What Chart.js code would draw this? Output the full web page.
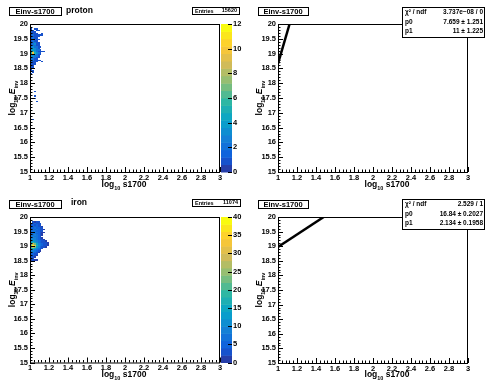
<!DOCTYPE html>
<html>
<head>
<meta charset="utf-8">
<script src="https://cdn.jsdelivr.net/npm/chart.js@4.4.0/dist/chart.umd.min.js"></script>
<style>
  body { margin: 0; background: #fff; }
  #wrap { position: relative; width: 485px; height: 380px; overflow: hidden; background: #fff; }
  canvas { position: absolute; }
</style>
</head>
<body>
<div id="wrap">
  <canvas id="c1" width="242" height="190" style="left:0px;top:0px"></canvas>
  <canvas id="c2" width="242" height="190" style="left:243px;top:0px"></canvas>
  <canvas id="c3" width="242" height="190" style="left:0px;top:190px"></canvas>
  <canvas id="c4" width="242" height="190" style="left:243px;top:190px"></canvas>
</div>
<script>
// ---- datos ----
const xTicks = [1, 1.2, 1.4, 1.6, 1.8, 2, 2.2, 2.4, 2.6, 2.8, 3];
const yTicks = [15, 15.5, 16, 16.5, 17, 17.5, 18, 18.5, 19, 19.5, 20];
const binX = 0.02;
const binY = 0.05;

// proton: bin lower edges and counts
const protonColsX = [1.0, 1.02, 1.04, 1.06, 1.08, 1.1, 1.12, 1.14];
const protonRowsY = [19.8, 19.75, 19.7, 19.65, 19.6, 19.55, 19.5, 19.45, 19.4, 19.35, 19.3, 19.25, 19.2, 19.15, 19.1, 19.05, 19.0, 18.95, 18.9, 18.85, 18.8, 18.75, 18.7, 18.65, 18.6, 18.55, 18.5, 18.45, 18.4, 18.35, 18.3];
const protonCounts = [
  [1, 0, 1, 1, 0, 0, 0, 0],
  [1, 1, 0, 1, 1, 0, 0, 0],
  [1, 1, 1, 0, 0, 0, 0, 0],
  [1, 1, 1, 1, 0, 0, 1, 0],
  [1, 2, 1, 1, 1, 1, 1, 0],
  [2, 1, 1, 1, 1, 0, 0, 0],
  [1, 2, 1, 1, 0, 0, 0, 0],
  [1, 1, 2, 1, 1, 0, 0, 0],
  [1, 2, 1, 1, 0, 0, 0, 0],
  [2, 2, 2, 1, 1, 0, 0, 0],
  [1, 2, 3, 1, 1, 0, 0, 0],
  [2, 2, 2, 1, 1, 0, 0, 0],
  [2, 3, 2, 2, 1, 1, 0, 0],
  [3, 4, 3, 2, 1, 0, 0, 0],
  [3, 4, 3, 2, 2, 1, 0, 0],
  [4, 6, 4, 2, 1, 1, 1, 1],
  [5, 10, 5, 3, 2, 1, 0, 0],
  [4, 5, 3, 2, 1, 1, 0, 0],
  [3, 3, 2, 2, 1, 0, 0, 0],
  [2, 2, 2, 1, 1, 0, 0, 0],
  [2, 2, 1, 1, 0, 0, 0, 0],
  [1, 2, 1, 1, 1, 1, 0, 0],
  [2, 1, 1, 1, 0, 0, 1, 0],
  [1, 1, 1, 0, 0, 0, 0, 0],
  [1, 1, 1, 0, 0, 0, 0, 0],
  [1, 1, 0, 0, 0, 0, 0, 0],
  [1, 1, 0, 0, 0, 0, 0, 0],
  [1, 0, 0, 0, 0, 0, 0, 0],
  [1, 1, 0, 0, 0, 0, 0, 0],
  [0, 1, 0, 0, 0, 0, 0, 0],
  [1, 0, 0, 0, 0, 0, 0, 0],
];
const protonExtraX = [1.04, 1.04, 1.04, 1.06, 1.02, 1.0];
const protonExtraY = [17.7, 17.55, 17.45, 17.35, 16.75, 16.75];
const protonExtraZ = [1, 1, 1, 1, 1, 1];
const protonZTicks = [0, 2, 4, 6, 8, 10, 12];

// iron
const ironColsX = [1.0, 1.02, 1.04, 1.06, 1.08, 1.1, 1.12, 1.14, 1.16, 1.18];
const ironRowsY = [19.8, 19.75, 19.7, 19.65, 19.6, 19.55, 19.5, 19.45, 19.4, 19.35, 19.3, 19.25, 19.2, 19.15, 19.1, 19.05, 19.0, 18.95, 18.9, 18.85, 18.8, 18.75, 18.7, 18.65, 18.6, 18.55, 18.5, 18.45];
const ironCounts = [
  [0, 2, 1, 2, 3, 0, 0, 0, 0, 0],
  [2, 3, 4, 2, 3, 2, 0, 0, 0, 0],
  [3, 4, 3, 5, 2, 3, 0, 0, 0, 0],
  [3, 5, 4, 4, 3, 2, 1, 0, 0, 0],
  [4, 5, 6, 5, 4, 3, 2, 0, 0, 0],
  [5, 6, 5, 6, 4, 3, 2, 1, 0, 0],
  [5, 7, 6, 5, 5, 3, 2, 0, 0, 0],
  [6, 6, 7, 6, 4, 3, 1, 1, 0, 0],
  [5, 7, 6, 5, 4, 2, 1, 0, 0, 0],
  [6, 7, 8, 6, 4, 2, 1, 0, 0, 0],
  [7, 8, 7, 6, 4, 3, 0, 0, 0, 0],
  [8, 9, 8, 7, 5, 2, 1, 0, 0, 0],
  [9, 10, 9, 7, 5, 3, 2, 1, 0, 0],
  [11, 13, 11, 9, 6, 4, 2, 2, 1, 0],
  [14, 18, 15, 11, 7, 5, 3, 2, 2, 1],
  [20, 28, 22, 14, 9, 6, 4, 3, 2, 1],
  [25, 39, 31, 17, 10, 7, 5, 3, 2, 1],
  [21, 29, 22, 13, 8, 5, 3, 2, 1, 0],
  [15, 18, 14, 9, 6, 3, 2, 0, 0, 0],
  [11, 12, 9, 6, 4, 2, 0, 0, 0, 0],
  [8, 9, 6, 4, 2, 1, 0, 0, 0, 0],
  [6, 7, 4, 3, 1, 0, 0, 0, 0, 0],
  [5, 5, 3, 2, 0, 0, 0, 0, 0, 0],
  [3, 4, 2, 1, 0, 0, 0, 0, 0, 0],
  [2, 3, 1, 0, 0, 0, 0, 0, 0, 0],
  [2, 2, 0, 0, 0, 0, 0, 0, 0, 0],
  [1, 2, 1, 1, 0, 0, 0, 0, 0, 0],
  [1, 1, 0, 0, 0, 0, 0, 0, 0, 0],
];
const ironZTicks = [0, 5, 10, 15, 20, 25, 30, 35, 40];

// fit lines (end points)
const protonFitX = [1, 1.122];
const protonFitY = [18.66, 20];
const ironFitX = [1, 1.481];
const ironFitY = [18.97, 20];

const protonStats = [["\u03c7\u00b2 / ndf", "3.737e\u221208 / 0"], ["p0", "7.659 \u00b1 1.251"], ["p1", "11 \u00b1 1.225"]];
const ironStats = [["\u03c7\u00b2 / ndf", "2.529 / 1"], ["p0", "16.84 \u00b1 0.2027"], ["p1", "2.134 \u00b1 0.1958"]];

// ---- estilo ----
const fam = "'Liberation Sans', Arial, Helvetica, sans-serif";
const birdStops = [0, 0.125, 0.25, 0.375, 0.5, 0.625, 0.75, 0.875, 1];
const birdRed = [0.2082, 0.0592, 0.078, 0.0232, 0.1802, 0.5301, 0.8186, 0.9956, 0.9764];
const birdGreen = [0.1664, 0.3599, 0.5041, 0.6419, 0.7178, 0.7492, 0.7328, 0.7862, 0.9832];
const birdBlue = [0.5293, 0.8684, 0.8385, 0.7914, 0.6425, 0.4662, 0.3499, 0.1968, 0.0539];
const nContours = 20;

function birdColor(f) {
  f = Math.min(1, Math.max(0, f));
  let i = 0;
  while (i < birdStops.length - 2 && f > birdStops[i + 1]) i++;
  let t = (f - birdStops[i]) / (birdStops[i + 1] - birdStops[i]);
  let r = birdRed[i] + t * (birdRed[i + 1] - birdRed[i]);
  let g = birdGreen[i] + t * (birdGreen[i + 1] - birdGreen[i]);
  let b = birdBlue[i] + t * (birdBlue[i + 1] - birdBlue[i]);
  return `rgb(${Math.round(r * 255)},${Math.round(g * 255)},${Math.round(b * 255)})`;
}
function bandColor(band) {
  // como ROOT: color del contorno k = (k + 0.99) / ncontornos
  return birdColor((band + 0.99) / nContours);
}
function cellColor(z, zMax) {
  return bandColor(Math.min(nContours - 1, Math.floor((z / zMax) * nContours + 0.01)));
}

function buildCells(colsX, rowsY, counts, exX, exY, exZ) {
  let cells = [];
  rowsY.forEach(function (y, r) {
    colsX.forEach(function (x, c) {
      if (counts[r][c] > 0) cells.push({ x: x, y: y, z: counts[r][c] });
    });
  });
  (exX || []).forEach(function (x, i) {
    cells.push({ x: x, y: exY[i], z: exZ[i] });
  });
  return cells;
}

function drawParts(ctx, parts, cx, baseline) {
  let total = 0;
  parts.forEach(function (p) {
    ctx.font = p[1];
    total += ctx.measureText(p[0]).width;
  });
  let x = cx - total / 2;
  ctx.textAlign = "left";
  ctx.textBaseline = "alphabetic";
  parts.forEach(function (p) {
    ctx.font = p[1];
    ctx.fillText(p[0], x, baseline + p[2]);
    x += ctx.measureText(p[0]).width;
  });
}

// ---- plugin ROOT ----
const rootPlugin = {
  id: "rootPad",
  beforeDatasetsDraw(chart) {
    let cfg = chart.options.plugins.rootPad;
    let ctx = chart.ctx;
    let xs = chart.scales.x;
    let ys = chart.scales.y;
    if (cfg.heat) {
      ctx.save();
      chart.data.datasets[0].data.forEach(function (c) {
        let x0 = Math.round(xs.getPixelForValue(c.x));
        let x1 = Math.round(xs.getPixelForValue(c.x + binX));
        let y0 = Math.round(ys.getPixelForValue(c.y));
        let y1 = Math.round(ys.getPixelForValue(c.y + binY));
        ctx.fillStyle = cellColor(c.z, cfg.zMax);
        ctx.fillRect(x0, y1, Math.max(1, x1 - x0), Math.max(1, y0 - y1));
      });
      ctx.restore();
    }
  },
  afterDraw(chart) {
    let cfg = chart.options.plugins.rootPad;
    let ctx = chart.ctx;
    let a = chart.chartArea;
    let xs = chart.scales.x;
    let ys = chart.scales.y;
    ctx.save();
    ctx.strokeStyle = "#000";
    ctx.fillStyle = "#000";
    ctx.lineWidth = 1;

    // palette
    if (cfg.heat) {
      let zs = chart.scales.z;
      let px0 = a.right + 1;
      let pw = 11;
      for (let i = 0; i < nContours; i++) {
        let yb = zs.getPixelForValue((i * cfg.zMax) / nContours);
        let yt = zs.getPixelForValue(((i + 1) * cfg.zMax) / nContours);
        ctx.fillStyle = bandColor(i);
        ctx.fillRect(px0, yt, pw, yb - yt + 0.5);
      }
      ctx.fillStyle = "#000";
      ctx.beginPath();
      cfg.zTicks.forEach(function (v) {
        let y = Math.round(zs.getPixelForValue(v)) + 0.5;
        ctx.moveTo(px0 + pw, y);
        ctx.lineTo(px0 + pw - 4, y);
      });
      ctx.stroke();
    }

    // frame
    ctx.strokeRect(a.left + 0.5, a.top + 0.5, a.right - a.left - 1, a.bottom - a.top);

    // inward ticks
    ctx.beginPath();
    for (let i = 0; i <= 50; i++) {
      let x = Math.round(xs.getPixelForValue(1 + i * 0.04)) + 0.5;
      let len = i % 5 === 0 ? 5 : 2.5;
      ctx.moveTo(x, a.bottom);
      ctx.lineTo(x, a.bottom - len);
    }
    for (let i = 0; i <= 50; i++) {
      let y = Math.round(ys.getPixelForValue(15 + i * 0.1)) + 0.5;
      let len = i % 5 === 0 ? 5 : 2.5;
      ctx.moveTo(a.left, y);
      ctx.lineTo(a.left + len, y);
    }
    ctx.stroke();

    // axis titles
    ctx.fillStyle = "#000";
    drawParts(ctx, [
      ["log", "bold 8.5px " + fam, 0],
      ["10", "bold 5.5px " + fam, 2.5],
      [" s1700", "bold 8.5px " + fam, 0],
    ], cfg.xTitleX, cfg.xTitleY);
    ctx.save();
    ctx.translate(cfg.yTitleX, (a.top + a.bottom) / 2);
    ctx.rotate(-Math.PI / 2);
    drawParts(ctx, [
      ["log", "bold 8.5px " + fam, 0],
      ["10", "bold 5.5px " + fam, 2.5],
      [" ", "bold 8.5px " + fam, 0],
      ["E", "italic bold 8.5px " + fam, 0],
      ["inv", "bold 5.5px " + fam, 2.5],
    ], 0, 0);
    ctx.restore();

    // title box
    let tb = cfg.titleBox;
    ctx.fillStyle = "#fff";
    ctx.fillRect(tb[0], tb[1], tb[2], tb[3]);
    ctx.fillStyle = "#000";
    ctx.fillRect(tb[0] + 1, tb[1] + tb[3], tb[2], 1);
    ctx.fillRect(tb[0] + tb[2], tb[1] + 1, 1, tb[3]);
    ctx.strokeRect(tb[0] + 0.5, tb[1] + 0.5, tb[2], tb[3]);
    ctx.font = "bold 7.5px " + fam;
    ctx.textAlign = "center";
    ctx.textBaseline = "middle";
    ctx.fillText("Einv-s1700", tb[0] + tb[2] / 2, tb[1] + tb[3] / 2 + 1);

    if (cfg.label) {
      ctx.font = "bold 8.5px " + fam;
      ctx.textAlign = "left";
      ctx.fillText(cfg.label[0], cfg.label[1], cfg.label[2]);
    }

    // entries box
    if (cfg.entries) {
      let eb = cfg.entries;
      ctx.fillStyle = "#fff";
      ctx.fillRect(eb[0], eb[1], eb[2], eb[3]);
      ctx.fillStyle = "#000";
      ctx.fillRect(eb[0] + 1, eb[1] + eb[3], eb[2], 1);
      ctx.fillRect(eb[0] + eb[2], eb[1] + 1, 1, eb[3]);
      ctx.strokeRect(eb[0] + 0.5, eb[1] + 0.5, eb[2], eb[3]);
      ctx.font = "bold 5.5px " + fam;
      ctx.textBaseline = "middle";
      ctx.textAlign = "left";
      ctx.fillText("Entries", eb[0] + 3, eb[1] + eb[3] / 2 + 1);
      ctx.textAlign = "right";
      ctx.fillText(eb[4], eb[0] + eb[2] - 2, eb[1] + eb[3] / 2);
    }

    // stats box
    if (cfg.stats) {
      let sb = cfg.statsBox;
      ctx.fillStyle = "#fff";
      ctx.fillRect(sb[0], sb[1], sb[2], sb[3]);
      ctx.strokeRect(sb[0] + 0.5, sb[1] + 0.5, sb[2], sb[3]);
      ctx.fillStyle = "#000";
      ctx.font = "bold 6.5px " + fam;
      ctx.textBaseline = "middle";
      cfg.stats.forEach(function (row, i) {
        let y = sb[1] + 5.5 + i * 9.5;
        ctx.textAlign = "left";
        ctx.fillText(row[0], sb[0] + 3, y);
        ctx.textAlign = "right";
        ctx.fillText(row[1], sb[0] + sb[2] - 1, y);
      });
    }
    ctx.restore();
  },
};

function makePanel(id, cfg) {
  let tickFont = { family: fam, size: 7.5, weight: "bold" };
  let scales = {
    x: {
      type: "linear",
      min: 1,
      max: 3,
      afterBuildTicks: function (s) { s.ticks = xTicks.map(function (v) { return { value: v }; }); },
      afterFit: function (s) { s.height = cfg.xHeight; },
      grid: { display: false, drawTicks: false },
      border: { display: false },
      ticks: { font: tickFont, color: "#000", padding: 1, maxRotation: 0, autoSkip: false, callback: function (v) { return String(v); } },
    },
    y: {
      type: "linear",
      min: 15,
      max: 20,
      afterBuildTicks: function (s) { s.ticks = yTicks.map(function (v) { return { value: v }; }); },
      afterFit: function (s) { s.width = cfg.yWidth; },
      grid: { display: false, drawTicks: false },
      border: { display: false },
      ticks: { font: tickFont, color: "#000", padding: 2, autoSkip: false, callback: function (v) { return String(v); } },
    },
  };
  if (cfg.heat) {
    scales.z = {
      type: "linear",
      position: "right",
      min: 0,
      max: cfg.zMax,
      afterBuildTicks: function (s) { s.ticks = cfg.zTicks.map(function (v) { return { value: v }; }); },
      afterFit: function (s) { s.width = cfg.zWidth; },
      grid: { display: false, drawTicks: false },
      border: { display: false },
      ticks: { font: tickFont, color: "#000", padding: 13, autoSkip: false },
    };
  }
  let datasets = [];
  if (cfg.heat) {
    datasets.push({ type: "scatter", data: cfg.cells, pointRadius: 0, xAxisID: "x", yAxisID: "y" });
  }
  if (cfg.fitX) {
    datasets.push({
      type: "scatter",
      showLine: true,
      data: cfg.fitX.map(function (x, i) { return { x: x, y: cfg.fitY[i] }; }),
      borderColor: "#000",
      borderWidth: 2.5,
      pointRadius: 0,
      clip: 0,
    });
  }
  return new Chart(document.getElementById(id), {
    type: "scatter",
    data: { datasets: datasets },
    options: {
      responsive: false,
      animation: false,
      events: [],
      layout: { padding: { left: 0, right: cfg.padRight, top: cfg.padTop, bottom: 0 } },
      plugins: { legend: { display: false }, tooltip: { enabled: false }, rootPad: cfg },
      scales: scales,
    },
    plugins: [rootPlugin],
  });
}

makePanel("c1", {
  heat: true,
  cells: buildCells(protonColsX, protonRowsY, protonCounts, protonExtraX, protonExtraY, protonExtraZ),
  zMax: 12,
  zTicks: protonZTicks,
  zWidth: 22,
  padRight: 0,
  padTop: 24,
  xHeight: 18,
  yWidth: 30,
  xTitleX: 124,
  xTitleY: 187,
  yTitleX: 15,
  titleBox: [9, 7, 52, 8],
  label: ["proton", 66, 11],
  entries: [192, 7, 47, 7, "15620"],
});
makePanel("c2", {
  heat: false,
  fitX: protonFitX,
  fitY: protonFitY,
  padRight: 17,
  padTop: 24,
  xHeight: 18,
  yWidth: 35,
  xTitleX: 144,
  xTitleY: 187,
  yTitleX: 19,
  titleBox: [15, 7, 50, 8],
  stats: protonStats,
  statsBox: [159, 7, 82, 30],
});
makePanel("c3", {
  heat: true,
  cells: buildCells(ironColsX, ironRowsY, ironCounts),
  zMax: 40,
  zTicks: ironZTicks,
  zWidth: 22,
  padRight: 0,
  padTop: 27,
  xHeight: 17,
  yWidth: 30,
  xTitleX: 124,
  xTitleY: 187,
  yTitleX: 15,
  titleBox: [9, 10, 52, 8],
  label: ["iron", 71, 13],
  entries: [192, 9, 48, 7, "11074"],
});
makePanel("c4", {
  heat: false,
  fitX: ironFitX,
  fitY: ironFitY,
  padRight: 17,
  padTop: 27,
  xHeight: 17,
  yWidth: 35,
  xTitleX: 144,
  xTitleY: 187,
  yTitleX: 19,
  titleBox: [15, 10, 50, 8],
  stats: ironStats,
  statsBox: [159, 9, 82, 30],
});
</script>
</body>
</html>
